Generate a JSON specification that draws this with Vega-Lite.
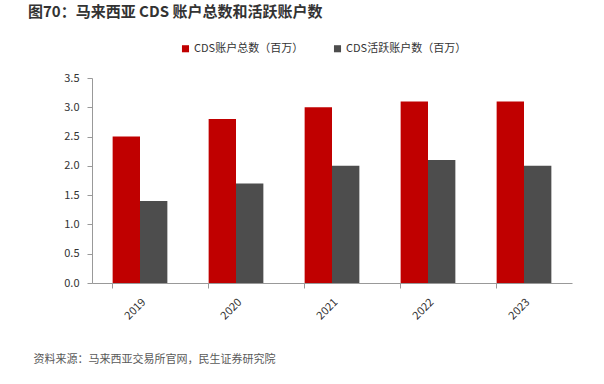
{
  "$schema": "https://vega.github.io/schema/vega-lite/v6.json",
  "autosize": "none",
  "width": 480,
  "height": 205,
  "padding": {"left": 92, "top": 78, "right": 32, "bottom": 101},
  "background": "white",
  "config": {
    "font": "Noto Sans CJK SC",
    "view": {"stroke": null}
  },
  "title": {
    "text": "图70：马来西亚 CDS 账户总数和活跃账户数",
    "anchor": "start",
    "frame": "group",
    "dx": -64,
    "fontSize": 15,
    "fontWeight": "bold",
    "color": "#333333",
    "offset": 23
  },
  "data": {
    "values": [
      {"year": "2019", "series": "CDS账户总数（百万）", "value": 2.5},
      {"year": "2019", "series": "CDS活跃账户数（百万）", "value": 1.4},
      {"year": "2020", "series": "CDS账户总数（百万）", "value": 2.8},
      {"year": "2020", "series": "CDS活跃账户数（百万）", "value": 1.7},
      {"year": "2021", "series": "CDS账户总数（百万）", "value": 3.0},
      {"year": "2021", "series": "CDS活跃账户数（百万）", "value": 2.0},
      {"year": "2022", "series": "CDS账户总数（百万）", "value": 3.1},
      {"year": "2022", "series": "CDS活跃账户数（百万）", "value": 2.1},
      {"year": "2023", "series": "CDS账户总数（百万）", "value": 3.1},
      {"year": "2023", "series": "CDS活跃账户数（百万）", "value": 2.0}
    ]
  },
  "mark": {"type": "bar"},
  "encoding": {
    "x": {
      "field": "year",
      "type": "nominal",
      "scale": {"paddingInner": 0.43, "paddingOuter": 0.215},
      "axis": {
        "title": "资料来源：马来西亚交易所官网，民生证券研究院",
        "titleAnchor": "start",
        "titleAlign": "left",
        "titleX": -59,
        "titleY": 70,
        "titleFontSize": 11,
        "titleFontWeight": "normal",
        "titleColor": "#595959",
        "labelAngle": -45,
        "labelFontSize": 11,
        "labelColor": "#333333",
        "labelPadding": 8,
        "bandPosition": 0,
        "domainColor": "#999999",
        "tickColor": "#999999",
        "tickSize": 5
      }
    },
    "xOffset": {
      "field": "series",
      "type": "nominal",
      "sort": ["CDS账户总数（百万）", "CDS活跃账户数（百万）"],
      "scale": {"paddingInner": 0, "paddingOuter": 0}
    },
    "y": {
      "field": "value",
      "type": "quantitative",
      "scale": {"domain": [0, 3.5], "nice": false},
      "axis": {
        "title": null,
        "values": [0, 0.5, 1, 1.5, 2, 2.5, 3, 3.5],
        "format": ".1f",
        "grid": false,
        "labelFontSize": 11,
        "labelColor": "#333333",
        "labelPadding": 8,
        "domainColor": "#999999",
        "tickColor": "#999999",
        "tickSize": 5
      }
    },
    "color": {
      "field": "series",
      "type": "nominal",
      "sort": ["CDS账户总数（百万）", "CDS活跃账户数（百万）"],
      "scale": {"range": ["#C00000", "#4D4D4D"]},
      "legend": {
        "title": null,
        "orient": "none",
        "direction": "horizontal",
        "legendX": 88,
        "legendY": -35,
        "symbolType": "square",
        "symbolSize": 50,
        "symbolStrokeWidth": 0,
        "labelFontSize": 11,
        "labelColor": "#333333",
        "columnPadding": 28,
        "labelOffset": 3
      }
    }
  }
}
